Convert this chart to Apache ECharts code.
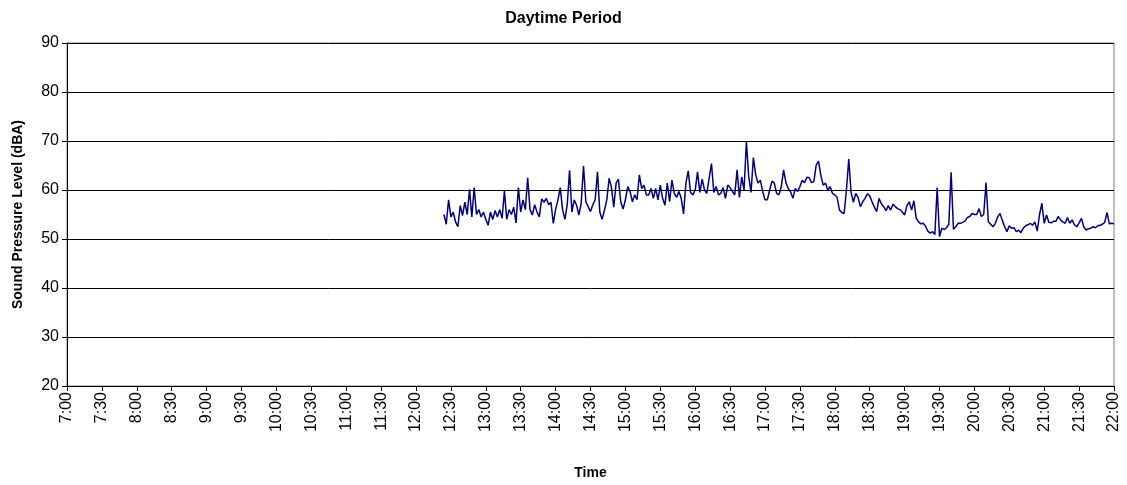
<!DOCTYPE html>
<html>
<head>
<meta charset="utf-8">
<script src="https://cdn.jsdelivr.net/npm/echarts@6/dist/echarts.min.js"></script>
<style>html,body{margin:0;padding:0;background:#fff}#c{width:1127px;height:485px}</style>
</head>
<body>
<div id="c"></div>
<script>
// Chart text
var chartTitle = 'Daytime Period';
var xTitle = 'Time';
var yTitle = 'Sound Pressure Level (dBA)';
// Y ticks
var yTicks = [20, 30, 40, 50, 60, 70, 80, 90];
// X tick labels (every 30 min, 7:00 .. 22:00)
var xTickLabels = ['7:00','7:30','8:00','8:30','9:00','9:30','10:00','10:30','11:00','11:30','12:00','12:30','13:00','13:30','14:00','14:30','15:00','15:30','16:00','16:30','17:00','17:30','18:00','18:30','19:00','19:30','20:00','20:30','21:00','21:30','22:00'];
// Measurement series: first sample at 12:24, one sample every 2 minutes (minutes after midnight)
var startMinute = 744;
var stepMinutes = 2;
var splValues = [
55.0,53.0,58.0,54.5,55.5,53.5,52.5,56.8,54.8,57.5,
55.0,60.1,54.5,60.5,55.0,56.0,54.5,55.5,54.0,52.8,
55.5,54.0,55.8,54.5,56.0,54.2,59.8,54.0,56.0,55.0,
56.5,53.3,60.5,55.5,58.0,56.0,62.5,56.0,54.9,57.0,
55.5,54.5,58.2,57.5,58.3,57.0,57.5,53.2,56.0,58.0,
60.5,56.0,54.0,57.0,64.0,55.5,58.0,56.9,54.9,57.3,
64.9,57.6,56.6,55.6,57.0,58.0,63.7,55.5,54.0,55.9,
58.0,62.4,60.5,56.5,61.4,62.2,57.6,56.1,58.0,60.7,
59.7,57.6,59.0,58.0,63.1,60.3,61.0,59.0,59.0,60.3,
58.3,60.3,58.0,61.0,58.3,56.9,61.4,57.6,62.0,59.3,
58.5,59.7,58.3,55.1,61.4,63.9,59.5,59.0,60.0,63.7,
59.5,62.2,60.0,59.3,62.4,65.4,59.5,60.7,59.0,59.3,
60.5,58.3,61.0,60.5,59.7,59.0,64.1,58.5,62.7,60.0,
69.9,62.7,59.5,66.6,63.1,61.4,62.0,59.7,58.0,58.0,
60.0,61.8,61.4,59.3,59.0,60.7,64.1,61.5,60.3,59.6,
58.3,60.3,59.7,60.7,62.0,61.5,62.6,62.5,61.5,61.7,
65.1,65.9,63.0,61.0,61.4,60.0,60.7,59.3,59.0,58.5,
55.9,55.4,55.2,60.0,66.3,59.5,57.5,59.3,58.5,56.6,
57.6,58.3,59.2,58.8,57.6,56.5,55.6,58.3,57.2,56.6,
55.8,56.8,55.9,57.1,56.6,56.2,56.0,55.5,54.9,56.8,
57.6,55.9,57.8,54.2,53.5,53.1,53.2,52.6,51.6,51.2,
51.5,50.9,60.5,50.5,52.2,51.9,52.3,53.0,63.6,52.0,
52.5,53.2,53.2,53.4,53.7,54.4,54.6,55.2,55.0,55.0,
56.2,54.6,55.0,61.5,53.5,53.0,52.5,53.2,54.5,55.2,
53.8,52.5,51.5,52.7,52.2,52.3,51.5,51.8,51.3,52.2,
52.7,52.9,53.2,52.8,53.5,51.6,55.0,57.3,53.2,54.9,
53.4,53.3,53.6,53.6,54.6,53.9,53.5,53.2,54.4,53.2,
53.9,52.9,52.5,53.3,54.2,52.5,51.8,52.1,52.2,52.5,
52.3,52.7,52.8,53.0,53.4,55.4,53.1,53.2,53.1
];

var seriesData = splValues.map(function (v, i) { return [startMinute + i * stepMinutes, v]; });
var xMin = 420, xMax = 1320, xInterval = 30;

var chart = echarts.init(document.getElementById('c'), null, { renderer: 'canvas' });
var font = 'Liberation Sans, Arial, sans-serif';
chart.setOption({
  animation: false,
  backgroundColor: '#ffffff',
  title: {
    text: chartTitle, left: 'center', top: 6,
    textStyle: { fontFamily: font, fontSize: 16, fontWeight: 'bold', color: '#000' }
  },
  grid: { left: 67, right: 13, top: 43, bottom: 99, outerBoundsMode: 'none', containLabel: false, show: true, borderColor: '#808080', borderWidth: 1, backgroundColor: 'transparent' },
  xAxis: {
    type: 'value', min: xMin, max: xMax, interval: xInterval,
    name: xTitle, nameLocation: 'middle', nameGap: 80,
    nameTextStyle: { fontFamily: font, fontSize: 14, fontWeight: 'bold', color: '#000' },
    axisLine: { show: true, onZero: false, lineStyle: { color: '#000', width: 1 } },
    axisTick: { show: true, length: 5, lineStyle: { color: '#000' } },
    splitLine: { show: false },
    axisLabel: {
      rotate: 90, margin: 6, fontFamily: font, fontSize: 16, color: '#000',
      formatter: function (v) { var i = Math.round((v - xMin) / xInterval); return xTickLabels[i] || ''; }
    }
  },
  yAxis: {
    type: 'value', min: yTicks[0], max: yTicks[yTicks.length - 1], interval: 10,
    name: yTitle, nameLocation: 'middle', nameGap: 42, nameRotate: 90,
    nameTextStyle: { fontFamily: font, fontSize: 14, fontWeight: 'bold', color: '#000' },
    axisLine: { show: true, onZero: false, lineStyle: { color: '#000', width: 1 } },
    axisTick: { show: true, length: 5, lineStyle: { color: '#000' } },
    splitLine: { show: true, lineStyle: { color: '#000', width: 1 } },
    axisLabel: { margin: 8, fontFamily: font, fontSize: 16, color: '#000' }
  },
  series: [{
    type: 'line', data: seriesData, showSymbol: false, symbol: 'none',
    lineStyle: { color: '#000080', width: 1.5 }, itemStyle: { color: '#000080' }
  }]
});
</script>
</body>
</html>
